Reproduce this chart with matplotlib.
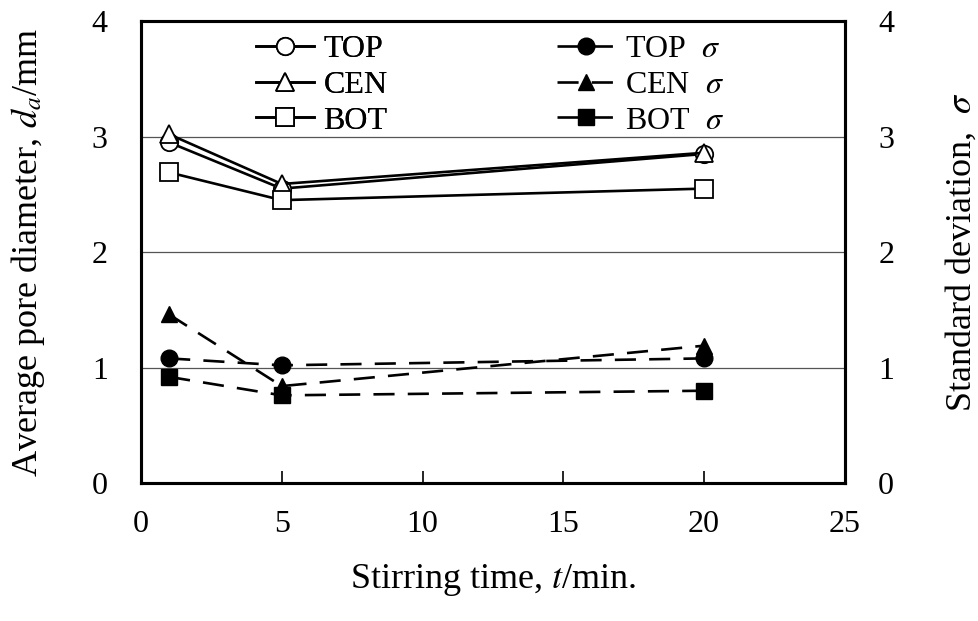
import matplotlib
matplotlib.use("Agg")
import matplotlib.pyplot as plt

plt.rcParams["font.family"] = ["Liberation Serif", "DejaVu Serif"]
plt.rcParams["mathtext.fontset"] = "stix"

# Stirring time (min)
TIME = [1, 5, 20]

# Average pore diameter d_a (mm)
DIAM_TOP = [2.95, 2.55, 2.85]
DIAM_CEN = [3.02, 2.59, 2.86]
DIAM_BOT = [2.69, 2.45, 2.55]

# Standard deviation sigma
SIG_TOP = [1.08, 1.02, 1.08]
SIG_CEN = [1.46, 0.84, 1.19]
SIG_BOT = [0.92, 0.76, 0.80]

X_TICKS = [0, 5, 10, 15, 20, 25]
Y_TICKS = [0, 1, 2, 3, 4]


def main():
    fig = plt.figure(figsize=(9.79, 6.21), dpi=100)
    ax = fig.add_axes([0.144, 0.222, 0.719, 0.744])
    ax2 = ax.twinx()

    ax.set_xlim(0, 25)
    ax.set_ylim(0, 4)
    ax2.set_ylim(0, 4)

    for y in [1, 2, 3]:
        ax.axhline(y, color="#555555", lw=0.9, zorder=0)

    mk = dict(markersize=12.5, markeredgewidth=1.3, color="black", lw=1.9)
    h1, = ax.plot(TIME, DIAM_TOP, marker="o", mfc="white", mec="black", **mk)
    h2, = ax.plot(TIME, DIAM_CEN, marker="^", mfc="white", mec="black", **mk)
    h3, = ax.plot(TIME, DIAM_BOT, marker="s", mfc="white", mec="black", **mk)

    dk = dict(markersize=12, color="black", lw=1.9, dashes=(8, 5))
    h4, = ax2.plot(TIME, SIG_TOP, marker="o", **dk)
    h5, = ax2.plot(TIME, SIG_CEN, marker="^", **dk)
    h6, = ax2.plot(TIME, SIG_BOT, marker="s", **dk)

    ax.set_xticks(X_TICKS)
    ax.set_yticks(Y_TICKS)
    ax2.set_yticks(Y_TICKS)
    ax.tick_params(axis="x", direction="in", length=9, width=1.2,
                   pad=19, labelsize=23, top=False)
    ax.tick_params(axis="y", length=0, pad=24, labelsize=23)
    ax2.tick_params(axis="y", length=0, pad=24, labelsize=23)

    for a in (ax, ax2):
        for s in a.spines.values():
            s.set_linewidth(2.2)

    ax.set_xlabel("Stirring time, $t$/min.", fontsize=26, labelpad=17)
    ax.set_ylabel("Average pore diameter, $d_a$/mm", fontsize=26, labelpad=32)
    ax2.set_ylabel("Standard deviation,  $\\sigma$", fontsize=26, labelpad=36)

    leg_kw = dict(frameon=False, fontsize=23, handlelength=1.8,
                  labelspacing=0.2, handletextpad=0.3, borderpad=0)
    leg1 = ax.legend([h1, h2, h3], ["TOP", "CEN", "BOT"],
                     loc="upper left", bbox_to_anchor=(0.141, 1.005), **leg_kw)
    ax.add_artist(leg1)
    ax2.legend([h4, h5, h6],
               ["TOP  $\\sigma$", "CEN  $\\sigma$", "BOT  $\\sigma$"],
               loc="upper left", bbox_to_anchor=(0.569, 1.005), **leg_kw)

    fig.savefig("out.png", dpi=100, facecolor="white")


if __name__ == "__main__":
    main()
